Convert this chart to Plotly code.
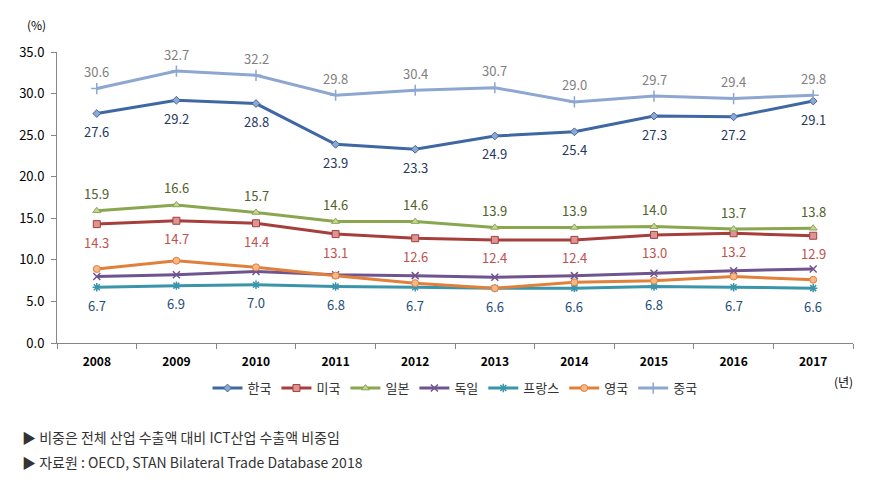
import plotly.graph_objects as go

years = ["2008", "2009", "2010", "2011", "2012", "2013", "2014", "2015", "2016", "2017"]
korea = [27.6, 29.2, 28.8, 23.9, 23.3, 24.9, 25.4, 27.3, 27.2, 29.1]
usa = [14.3, 14.7, 14.4, 13.1, 12.6, 12.4, 12.4, 13.0, 13.2, 12.9]
japan = [15.9, 16.6, 15.7, 14.6, 14.6, 13.9, 13.9, 14.0, 13.7, 13.8]
germany = [8.0, 8.2, 8.6, 8.2, 8.1, 7.9, 8.1, 8.4, 8.7, 8.9]
france = [6.7, 6.9, 7.0, 6.8, 6.7, 6.6, 6.6, 6.8, 6.7, 6.6]
uk = [8.9, 9.9, 9.1, 8.1, 7.2, 6.6, 7.3, 7.5, 8.0, 7.6]
china = [30.6, 32.7, 32.2, 29.8, 30.4, 30.7, 29.0, 29.7, 29.4, 29.8]
yticks = [0, 5, 10, 15, 20, 25, 30, 35]

FONT = "Noto Sans CJK KR"

# name, values, line colour, symbol, size, fill, label shift (px), label colour
series = [
    ("한국", korea, "#3E67A3", "diamond", 6, "#8FA8D0", -18, "#1F3864"),
    ("미국", usa, "#A83E3B", "square", 7, "#D99694", -18, "#C0504D"),
    ("일본", japan, "#8AA64F", "triangle-up", 7, "#C3D69B", 17, "#4F6228"),
    ("독일", germany, "#6F5590", "x-thin", 7, "#6F5590", None, None),
    ("프랑스", france, "#3A95AA", "asterisk", 7, "#3A95AA", -18, "#1F4E79"),
    ("영국", uk, "#E0803A", "circle", 7, "#F5B88A", None, None),
    ("중국", china, "#8EA7D0", "cross-thin", 8, "#8EA7D0", 17, "#7F7F7F"),
]

fig = go.Figure()
annotations = []
for name, vals, color, sym, size, fill, shift, tcol in series:
    thin = sym.endswith("-thin") or sym == "asterisk"
    fig.add_trace(go.Scatter(
        x=years, y=vals, name=name, mode="lines+markers",
        line=dict(color=color, width=3),
        marker=dict(symbol=sym, size=size, color=fill,
                    line=dict(color=color, width=1.5 if thin else 1)),
        cliponaxis=False,
    ))
    if shift is not None:
        for i, v in enumerate(vals):
            annotations.append(dict(
                x=i, y=v, xref="x", yref="y", text=f"{v:.1f}", showarrow=False,
                yshift=shift, font=dict(family=FONT, size=13, color=tcol)))

annotations += [
    dict(text="(%)", xref="paper", yref="paper", x=-0.040, y=1.093, yanchor="middle",
         showarrow=False, font=dict(family=FONT, size=12, color="#000000")),
    dict(text="(년)", xref="paper", yref="paper", x=1.003, y=-0.131, yanchor="middle",
         showarrow=False, font=dict(family=FONT, size=12, color="#000000")),
    dict(text="▶ 비중은 전체 산업 수출액 대비 ICT산업 수출액 비중임", xref="paper", yref="paper",
         x=-0.046, y=-0.323, xanchor="left", yanchor="middle", showarrow=False,
         font=dict(family=FONT, size=14, color="#333333")),
    dict(text="▶ 자료원 : OECD, STAN Bilateral Trade Database 2018", xref="paper", yref="paper",
         x=-0.046, y=-0.409, xanchor="left", yanchor="middle", showarrow=False,
         font=dict(family=FONT, size=14, color="#333333")),
]

fig.update_layout(
    width=871, height=474,
    margin=dict(l=49, r=26, t=44, b=139, autoexpand=False),
    paper_bgcolor="white", plot_bgcolor="white",
    font=dict(family=FONT, size=12, color="#000000"),
    showlegend=True,
    legend=dict(orientation="h", x=0.5, xanchor="center", y=-0.155, yanchor="middle",
                font=dict(family=FONT, size=13, color="#333333"),
                itemwidth=30, tracegroupgap=0),
    xaxis=dict(type="category", tickson="boundaries", ticks="outside", ticklen=5,
               range=[-0.5, 9.5], tickangle=0, ticklabelstandoff=8,
               tickcolor="#868686", showline=True, linecolor="#868686", linewidth=1,
               showgrid=False, zeroline=False,
               tickfont=dict(family=FONT, size=12, color="#000000", weight="bold")),
    yaxis=dict(range=[0, 35], tickvals=yticks, ticktext=[f"{v:.1f}" for v in yticks],
               ticks="outside", ticklen=5, tickcolor="#868686", showline=True,
               ticklabelstandoff=4,
               linecolor="#868686", linewidth=1, showgrid=False, zeroline=False,
               tickfont=dict(family=FONT, size=13, color="#000000")),
    annotations=annotations,
)

fig.write_html("out.html")
